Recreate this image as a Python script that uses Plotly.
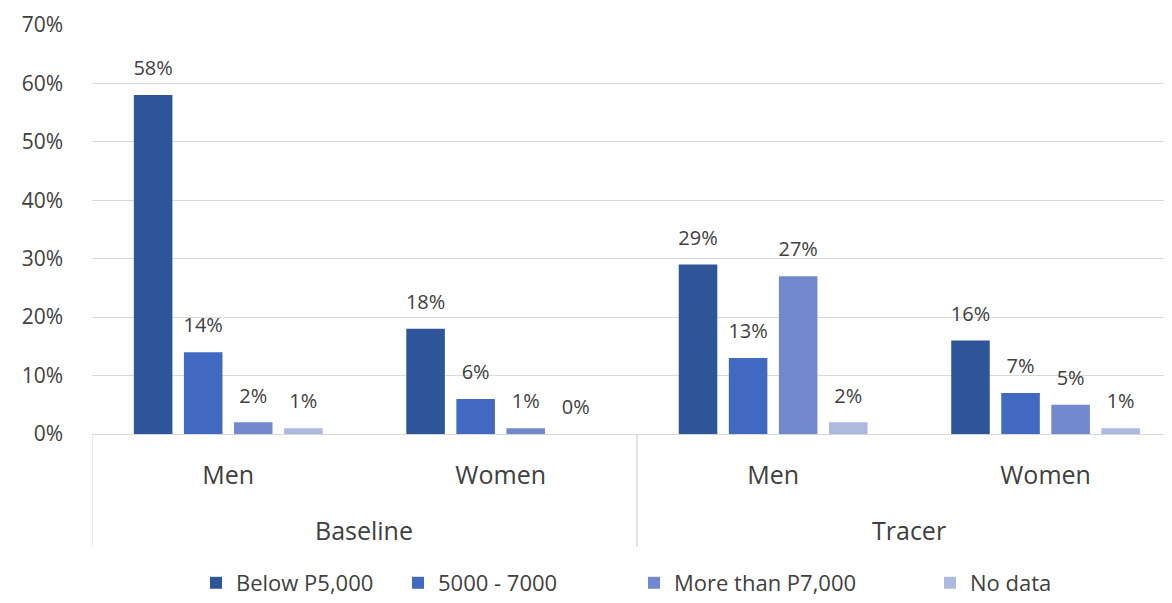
import plotly.graph_objects as go

# ---- data ----
outer = ["Baseline", "Baseline", "Tracer", "Tracer"]
inner = ["Men", "Women", "Men", "Women"]
series_names = ["Below P5,000", "5000 - 7000", "More than P7,000", "No data"]
below_5000 = [0.58, 0.18, 0.29, 0.16]
from_5000_7000 = [0.14, 0.06, 0.13, 0.07]
more_7000 = [0.02, 0.01, 0.27, 0.05]
no_data = [0.01, 0.00, 0.02, 0.01]
y_ticks = [0, 0.1, 0.2, 0.3, 0.4, 0.5, 0.6, 0.7]

series_values = [below_5000, from_5000_7000, more_7000, no_data]
colors = ["#2E5597", "#4169C1", "#7389CF", "#AEB9E0"]
legend_ids = ["legend", "legend2", "legend3", "legend4"]

FONT = "Open Sans"
TXT = "#404040"
GRID = "#D9D9D9"
BARGAP = 0.265
PAGE_OFF = 8                      # default body margin of the html page
W, H = 1172 - PAGE_OFF, 603 - PAGE_OFF
L, R, T = 92 - PAGE_OFF, 0, 25 - PAGE_OFF
AXIS_Y = 434 - PAGE_OFF
B = H - AXIS_Y
plot_w = W - L - R
plot_h = H - T - B

xi = list(range(len(inner)))

fig = go.Figure()
for name, vals, col, lid in zip(series_names, series_values, colors, legend_ids):
    fig.add_trace(go.Bar(
        x=xi, y=vals, name=name,
        marker=dict(color=col, line=dict(width=0)),
        hoverinfo="skip", legend=lid,
    ))
# data labels (grouped scatter so they sit above each bar)
for name, vals in zip(series_names, series_values):
    fig.add_trace(go.Scatter(
        x=xi, y=vals, mode="markers+text",
        texttemplate="%{y:.0%}", textposition="top center",
        textfont=dict(family=FONT, size=20, color=TXT),
        marker=dict(size=22, color="rgba(0,0,0,0)"),
        showlegend=False, hoverinfo="skip", cliponaxis=False,
    ))

# outer category labels and group dividers
groups = []
for i, g in enumerate(outer):
    if not groups or groups[-1][0] != g:
        groups.append([g, i, i])
    else:
        groups[-1][2] = i
annotations = []
shapes = []
for g, i0, i1 in groups:
    annotations.append(dict(x=(i0 + i1) / 2, xref="x", y=-96 / plot_h, yref="paper",
                            text=g, showarrow=False, yanchor="middle",
                            font=dict(family=FONT, size=25, color=TXT)))
    for xb in (i0 - 0.5, i1 + 0.5):
        shapes.append(dict(type="line", xref="x", yref="paper", x0=xb, x1=xb,
                           y0=0, y1=-113 / plot_h, line=dict(color=GRID, width=1)))

# legends: one per series, placed like the reference
legend_sym_px = [219, 421, 657, 953]
legend_common = dict(orientation="h", xanchor="left", y=-(583 - 434) / plot_h, yanchor="middle",
                     font=dict(family=FONT, size=22, color=TXT),
                     itemwidth=30, bgcolor="rgba(0,0,0,0)")
layout_legends = {}
for lid, p in zip(legend_ids, legend_sym_px):
    layout_legends[lid] = dict(legend_common, x=(p - 8 - PAGE_OFF - 15 - L) / plot_w)

fig.update_layout(
    width=W, height=H,
    margin=dict(l=L, r=R, t=T, b=B, autoexpand=False),
    paper_bgcolor="white", plot_bgcolor="white",
    font=dict(family=FONT, size=21, color=TXT),
    barmode="group", bargap=BARGAP, bargroupgap=0.23,
    scattermode="group", scattergap=BARGAP,
    showlegend=True,
    annotations=annotations, shapes=shapes,
    **layout_legends,
)
fig.update_yaxes(
    range=[0, 0.7], tickvals=y_ticks, tickformat=".0%",
    showgrid=True, gridcolor=GRID, gridwidth=1,
    zeroline=False, showline=False, ticks="",
    ticklabelstandoff=28, automargin=False,
    tickfont=dict(family=FONT, size=21, color=TXT),
)
fig.update_xaxes(
    range=[-0.5, 3.464], tickvals=xi, ticktext=inner,
    showline=True, linecolor=GRID, linewidth=1,
    showgrid=False, zeroline=False,
    ticks="", ticklabelstandoff=19, automargin=False,
    tickfont=dict(family=FONT, size=25, color=TXT),
)

fig.write_html("out.html")
